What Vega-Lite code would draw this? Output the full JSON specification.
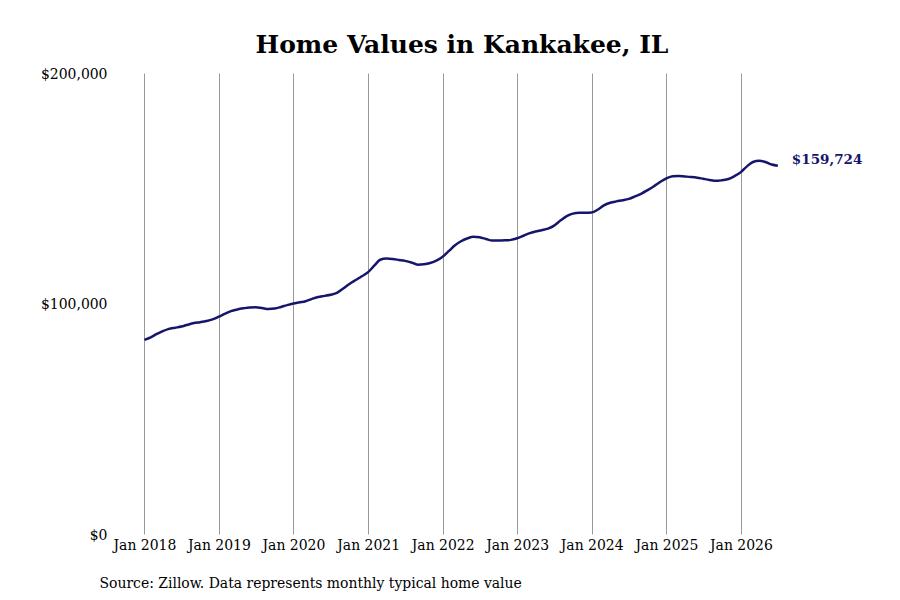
{
  "$schema": "https://vega.github.io/schema/vega-lite/v6.json",
  "width": 670,
  "height": 461,
  "autosize": {"type": "none"},
  "padding": {"left": 115, "top": 73, "right": 115, "bottom": 66},
  "background": "white",
  "title": {
    "text": "Home Values in Kankakee, IL",
    "font": "DejaVu Serif",
    "fontSize": 25,
    "fontWeight": "bold",
    "color": "#000000",
    "anchor": "middle",
    "frame": "group",
    "dx": 12,
    "offset": 8
  },
  "config": {
    "view": {"stroke": null},
    "axis": {"labelFont": "DejaVu Serif Condensed", "titleFont": "DejaVu Serif Condensed", "labelColor": "#000000", "titleColor": "#000000"}
  },
  "data": {
    "values": [
      {"date": "2018-01-01", "value": 84200},
      {"date": "2018-02-01", "value": 85300},
      {"date": "2018-03-01", "value": 86700},
      {"date": "2018-04-01", "value": 88000},
      {"date": "2018-05-01", "value": 89000},
      {"date": "2018-06-01", "value": 89500},
      {"date": "2018-07-01", "value": 90000},
      {"date": "2018-08-01", "value": 90800},
      {"date": "2018-09-01", "value": 91500},
      {"date": "2018-10-01", "value": 91900},
      {"date": "2018-11-01", "value": 92400},
      {"date": "2018-12-01", "value": 93100},
      {"date": "2019-01-01", "value": 94300},
      {"date": "2019-02-01", "value": 95600},
      {"date": "2019-03-01", "value": 96700},
      {"date": "2019-04-01", "value": 97400},
      {"date": "2019-05-01", "value": 97900},
      {"date": "2019-06-01", "value": 98300},
      {"date": "2019-07-01", "value": 98400},
      {"date": "2019-08-01", "value": 98000},
      {"date": "2019-09-01", "value": 97600},
      {"date": "2019-10-01", "value": 97800},
      {"date": "2019-11-01", "value": 98500},
      {"date": "2019-12-01", "value": 99300},
      {"date": "2020-01-01", "value": 100000},
      {"date": "2020-02-01", "value": 100500},
      {"date": "2020-03-01", "value": 101000},
      {"date": "2020-04-01", "value": 102000},
      {"date": "2020-05-01", "value": 102800},
      {"date": "2020-06-01", "value": 103300},
      {"date": "2020-07-01", "value": 103800},
      {"date": "2020-08-01", "value": 104600},
      {"date": "2020-09-01", "value": 106500},
      {"date": "2020-10-01", "value": 108500},
      {"date": "2020-11-01", "value": 110200},
      {"date": "2020-12-01", "value": 111800},
      {"date": "2021-01-01", "value": 113600},
      {"date": "2021-02-01", "value": 116500},
      {"date": "2021-03-01", "value": 119000},
      {"date": "2021-04-01", "value": 119500},
      {"date": "2021-05-01", "value": 119300},
      {"date": "2021-06-01", "value": 118900},
      {"date": "2021-07-01", "value": 118500},
      {"date": "2021-08-01", "value": 117800},
      {"date": "2021-09-01", "value": 116800},
      {"date": "2021-10-01", "value": 117000},
      {"date": "2021-11-01", "value": 117600},
      {"date": "2021-12-01", "value": 118600},
      {"date": "2022-01-01", "value": 120300},
      {"date": "2022-02-01", "value": 122800},
      {"date": "2022-03-01", "value": 125200},
      {"date": "2022-04-01", "value": 127000},
      {"date": "2022-05-01", "value": 128200},
      {"date": "2022-06-01", "value": 129000},
      {"date": "2022-07-01", "value": 128700},
      {"date": "2022-08-01", "value": 128000},
      {"date": "2022-09-01", "value": 127300},
      {"date": "2022-10-01", "value": 127300},
      {"date": "2022-11-01", "value": 127400},
      {"date": "2022-12-01", "value": 127600},
      {"date": "2023-01-01", "value": 128300},
      {"date": "2023-02-01", "value": 129400},
      {"date": "2023-03-01", "value": 130400},
      {"date": "2023-04-01", "value": 131200},
      {"date": "2023-05-01", "value": 131800},
      {"date": "2023-06-01", "value": 132500},
      {"date": "2023-07-01", "value": 133800},
      {"date": "2023-08-01", "value": 136000},
      {"date": "2023-09-01", "value": 137900},
      {"date": "2023-10-01", "value": 139000},
      {"date": "2023-11-01", "value": 139400},
      {"date": "2023-12-01", "value": 139400},
      {"date": "2024-01-01", "value": 139500},
      {"date": "2024-02-01", "value": 140800},
      {"date": "2024-03-01", "value": 142600},
      {"date": "2024-04-01", "value": 143700},
      {"date": "2024-05-01", "value": 144300},
      {"date": "2024-06-01", "value": 144800},
      {"date": "2024-07-01", "value": 145400},
      {"date": "2024-08-01", "value": 146500},
      {"date": "2024-09-01", "value": 147700},
      {"date": "2024-10-01", "value": 149200},
      {"date": "2024-11-01", "value": 150900},
      {"date": "2024-12-01", "value": 152700},
      {"date": "2025-01-01", "value": 154300},
      {"date": "2025-02-01", "value": 155200},
      {"date": "2025-03-01", "value": 155300},
      {"date": "2025-04-01", "value": 155100},
      {"date": "2025-05-01", "value": 154900},
      {"date": "2025-06-01", "value": 154600},
      {"date": "2025-07-01", "value": 154100},
      {"date": "2025-08-01", "value": 153600},
      {"date": "2025-09-01", "value": 153200},
      {"date": "2025-10-01", "value": 153500},
      {"date": "2025-11-01", "value": 154000},
      {"date": "2025-12-01", "value": 155300},
      {"date": "2026-01-01", "value": 157000},
      {"date": "2026-02-01", "value": 159600},
      {"date": "2026-03-01", "value": 161400},
      {"date": "2026-04-01", "value": 161900},
      {"date": "2026-05-01", "value": 161400},
      {"date": "2026-06-01", "value": 160300},
      {"date": "2026-07-01", "value": 159724, "label": "$159,724"}
    ]
  },
  "encoding": {
    "x": {
      "field": "date",
      "type": "temporal",
      "scale": {"type": "utc", "domain": ["2017-08-10", "2026-08-05"]},
      "axis": {
        "title": "Source: Zillow. Data represents monthly typical home value",
        "titleFontSize": 15.5,
        "titleFontWeight": "normal",
        "titleAnchor": "start",
        "titleAlign": "left",
        "titleBaseline": "middle",
        "titleX": -16,
        "titleY": 48,
        "labelExpr": "utcFormat(datum.value, '%b %Y')",
        "tickCount": {"interval": "year", "step": 1},
        "labelFontSize": 15.5,
        "labelPadding": 3,
        "labelOverlap": false,
        "labelFlush": false,
        "grid": true,
        "gridColor": "#999999",
        "gridWidth": 1,
        "ticks": false,
        "domain": false
      }
    },
    "y": {
      "field": "value",
      "type": "quantitative",
      "scale": {"domain": [0, 200000], "nice": false, "zero": true},
      "axis": {
        "title": null,
        "values": [0, 100000, 200000],
        "format": "$,.0f",
        "labelFontSize": 15.5,
        "labelPadding": 8,
        "grid": false,
        "ticks": false,
        "domain": false
      }
    }
  },
  "layer": [
    {
      "mark": {"type": "line", "color": "#15166b", "strokeWidth": 2.5, "interpolate": "monotone"}
    },
    {
      "transform": [{"filter": "datum.label != null"}],
      "mark": {"type": "text", "align": "left", "baseline": "middle", "dx": 14, "dy": -6, "font": "DejaVu Serif", "fontSize": 13.5, "fontWeight": "bold", "color": "#15166b"},
      "encoding": {"text": {"field": "label"}}
    }
  ]
}
